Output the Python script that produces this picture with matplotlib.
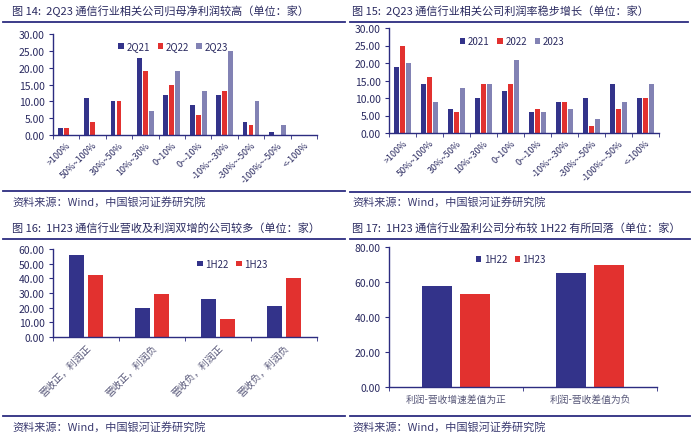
import numpy as np
import matplotlib.pyplot as plt
from matplotlib.ticker import FormatStrFormatter

plt.rcParams['font.family'] = ['Noto Sans CJK SC', 'DejaVu Sans']

# data
cats_a = ['>100%', '50%~100%', '30%~50%', '10%~30%', '0~10%', '0~-10%',
          '-10%~-30%', '-30%~-50%', '-100%~-50%', '<-100%']
q21 = [2, 11, 10, 23, 12, 9, 12, 4, 1, 0]
q22 = [2, 4, 10, 19, 15, 6, 13, 3, 0, 0]
q23 = [0, 0, 0, 7, 19, 13, 25, 10, 3, 0]

y21 = [19, 14, 7, 10, 12, 6, 9, 10, 14, 10]
y22 = [25, 16, 6, 14, 14, 7, 9, 2, 7, 10]
y23 = [20, 9, 13, 14, 21, 6, 7, 4, 9, 14]

cats_c = ['营收正，利润正', '营收正，利润负', '营收负，利润正', '营收负，利润负']
h22_c = [56, 20, 26, 21]
h23_c = [42, 29, 12, 40]

cats_d = ['利润-营收增速差值为正', '利润-营收差值为负']
h22_d = [58, 65]
h23_d = [53, 70]

NAVY = '#33338a'
RED = '#e2312f'
GREY = '#8282b4'
AX = '#2c2c80'
TXT = '#2a2a60'

W, H = 700, 435
fig = plt.figure(figsize=(7, 4.35), dpi=100)


def px_axes(x0, y0, x1, y1):
    # pixel box (top-left origin) -> axes
    return fig.add_axes([x0 / W, 1 - y1 / H, (x1 - x0) / W, (y1 - y0) / H])


def hline(x0, x1, y):
    fig.add_artist(plt.Line2D([x0 / W, x1 / W], [1 - y / H, 1 - y / H],
                              color=AX, lw=1.3))


def ftext(x, y, s, **kw):
    fig.text(x / W, 1 - y / H, s, va='center', ha='left', **kw)


def style(ax, n, ymax, step, rot=True, lab=None):
    ax.set_xlim(0, n)
    ax.set_ylim(0, ymax)
    ax.set_yticks(np.arange(0, ymax + 0.1, step))
    ax.yaxis.set_major_formatter(FormatStrFormatter('%.2f'))
    for s in ['top', 'right']:
        ax.spines[s].set_visible(False)
    for s in ['left', 'bottom']:
        ax.spines[s].set_color(AX)
        ax.spines[s].set_linewidth(1.0)
    ax.set_xticks(np.arange(n) + 0.5)
    ax.set_xticks(np.arange(n + 1), minor=True)
    ax.tick_params(axis='x', which='major', length=0)
    ax.tick_params(axis='x', which='minor', length=3, color=AX, direction='out')
    ax.tick_params(axis='y', length=3, color=AX, labelsize=7.5, labelcolor=TXT, pad=3)
    if rot:
        ax.set_xticklabels(lab, rotation=45, ha='right', rotation_mode='anchor',
                           fontsize=6.5, color=TXT)
    else:
        ax.set_xticklabels(lab, fontsize=7, color='#555577')
    ax.patch.set_alpha(0)


def leg(ax, x, y, ncol):
    ax.legend(loc='center', bbox_to_anchor=(x, y), ncol=ncol, frameon=False,
              fontsize=7, handlelength=0.55, handleheight=0.55, handletextpad=0.25,
              columnspacing=0.8, labelcolor=TXT)


# panel 14
ax1 = px_axes(53, 35, 317, 136)
x = np.arange(len(cats_a)) + 0.5
ax1.bar(x - 0.23, q21, 0.18, color=NAVY, label='2Q21')
ax1.bar(x, q22, 0.18, color=RED, label='2Q22')
ax1.bar(x + 0.23, q23, 0.18, color=GREY, label='2Q23')
style(ax1, len(cats_a), 30, 5, lab=cats_a)
leg(ax1, 0.455, 0.88, 3)

# panel 15
ax2 = px_axes(389, 29, 659, 134)
ax2.bar(x - 0.23, y21, 0.19, color=NAVY, label='2021')
ax2.bar(x, y22, 0.19, color=RED, label='2022')
ax2.bar(x + 0.23, y23, 0.19, color=GREY, label='2023')
style(ax2, len(cats_a), 30, 5, lab=cats_a)
leg(ax2, 0.456, 0.876, 3)

# panel 16
ax3 = px_axes(53, 250, 317, 338)
xc = np.arange(len(cats_c)) + 0.5
ax3.bar(xc - 0.145, h22_c, 0.23, color=NAVY, label='1H22')
ax3.bar(xc + 0.145, h23_c, 0.23, color=RED, label='1H23')
style(ax3, len(cats_c), 60, 10, lab=cats_c)
for t in ax3.get_xticklabels():
    t.set_fontsize(7)
    t.set_color('#555577')
leg(ax3, 0.68, 0.83, 2)

# panel 17
ax4 = px_axes(389, 248, 657, 388)
xd = np.arange(len(cats_d)) + 0.5
ax4.bar(xd - 0.14, h22_d, 0.225, color=NAVY, label='1H22')
ax4.bar(xd + 0.14, h23_d, 0.225, color=RED, label='1H23')
style(ax4, len(cats_d), 80, 20, rot=False, lab=cats_d)
ax4.tick_params(axis='x', which='major', pad=5)
leg(ax4, 0.455, 0.914, 2)

# titles, rules and sources
tfs = 8
ftext(12, 11, '图 14:  2Q23 通信行业相关公司归母净利润较高（单位：家）', fontsize=tfs, color=TXT)
ftext(352, 11, '图 15:  2Q23 通信行业相关公司利润率稳步增长（单位：家）', fontsize=tfs, color=TXT)
ftext(12, 228, '图 16:  1H23 通信行业营收及利润双增的公司较多（单位：家）', fontsize=tfs, color=TXT)
ftext(352, 228, '图 17:  1H23 通信行业盈利公司分布较 1H22 有所回落（单位：家）', fontsize=tfs, color=TXT)

hline(3, 345, 23)
hline(350, 688, 23)
hline(3, 345, 192)
hline(350, 690, 193)
hline(3, 345, 240)
hline(350, 690, 240)
hline(3, 345, 417)
hline(350, 690, 417)

src = '资料来源：Wind，中国银河证券研究院'
for sx, sy in [(12, 202), (352, 202), (12, 427), (352, 427)]:
    ftext(sx, sy, src, fontsize=8, color='#3a3a70', style='italic')

fig.savefig('out.png', dpi=100, facecolor='white')
